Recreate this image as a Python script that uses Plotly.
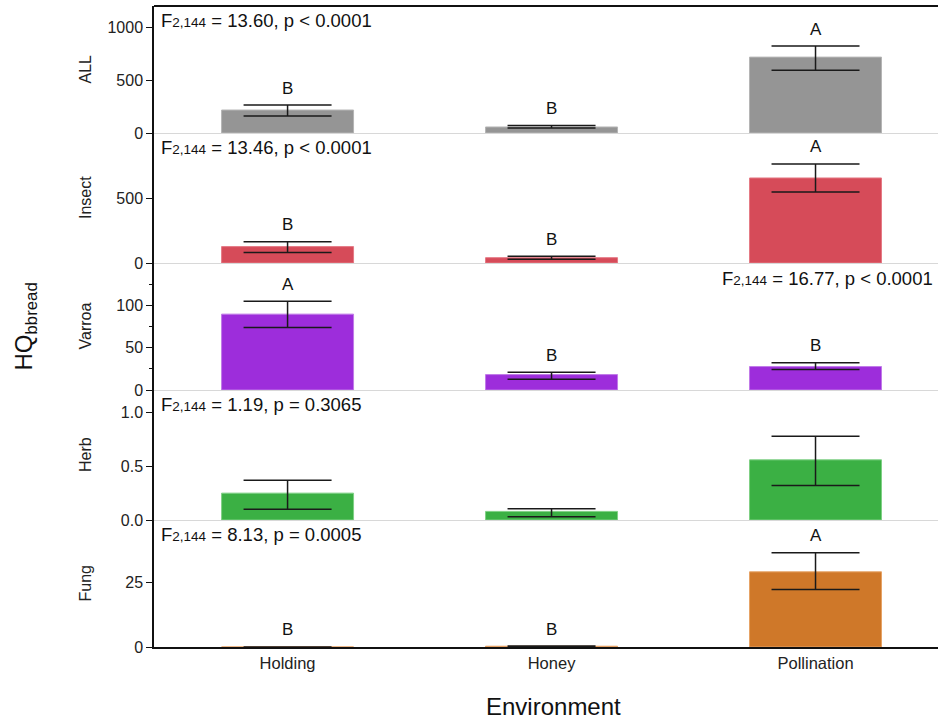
import plotly.graph_objects as go
from plotly.subplots import make_subplots

# ---------------- data ----------------
environments = ["Holding", "Honey", "Pollination"]
panels = ["ALL", "Insect", "Varroa", "Herb", "Fung"]

all_mean = [217, 57, 717]
all_upper = [264, 71, 821]
all_lower = [160, 47, 594]

insect_mean = [126, 41, 654]
insect_upper = [164, 52, 762]
insect_lower = [81, 28, 546]

varroa_mean = [89.6, 18.2, 27.7]
varroa_upper = [104.8, 21.0, 32.1]
varroa_lower = [73.8, 12.6, 24.2]

herb_mean = [0.25, 0.08, 0.56]
herb_upper = [0.37, 0.105, 0.78]
herb_lower = [0.10, 0.03, 0.32]

fung_mean = [0.02, 0.3, 29.3]
fung_upper = [0.03, 0.35, 36.7]
fung_lower = [0.01, 0.25, 22.4]

all_letters = ["B", "B", "A"]
insect_letters = ["B", "B", "A"]
varroa_letters = ["A", "B", "B"]
herb_letters = ["", "", ""]
fung_letters = ["B", "B", "A"]

SUB = "<span style='font-size:13.5px'>2,144</span>"
stats = [
    "F" + SUB + " = 13.60, p < 0.0001",
    "F" + SUB + " = 13.46, p < 0.0001",
    "F" + SUB + " = 16.77, p < 0.0001",
    "F" + SUB + " = 1.19, p = 0.3065",
    "F" + SUB + " = 8.13, p = 0.0005",
]
stats_side = ["left", "left", "right", "left", "left"]

y_ranges = [[0, 1200], [0, 1000], [0, 150], [0, 1.21], [0, 49.5]]
y_ticks = [[0, 500, 1000], [0, 500], [0, 50, 100], [0, 0.5, 1.0], [0, 25]]
y_ticktext = [["0", "500", "1000"], ["0", "500"], ["0", "50", "100"],
              ["0.0", "0.5", "1.0"], ["0", "25"]]

colors = ["#959595", "#d64b59", "#9d2ddb", "#3bb044", "#cf7829"]
outline = ["#b5b5b5", "#e57a85", "#c07ae8", "#7fd085", "#e6a366"]

means = [all_mean, insect_mean, varroa_mean, herb_mean, fung_mean]
uppers = [all_upper, insect_upper, varroa_upper, herb_upper, fung_upper]
lowers = [all_lower, insect_lower, varroa_lower, herb_lower, fung_lower]
letters = [all_letters, insect_letters, varroa_letters, herb_letters, fung_letters]

# ---------------- figure ----------------
W, H = 938, 721
ml, mr, mt, mb = 154, 0, 6, 74
ph = H - mt - mb
bounds_px = [6, 133, 263, 390, 520, 647]  # panel boundaries (pixels from top)

fig = make_subplots(rows=5, cols=1, shared_xaxes=True, vertical_spacing=0)

FONT = "Liberation Sans, Arial, sans-serif"
TXT = "#222222"

for i in range(5):
    r = i + 1
    m = means[i]
    up = [u - v for u, v in zip(uppers[i], m)]
    lo = [v - l for v, l in zip(m, lowers[i])]
    fig.add_trace(go.Bar(
        x=environments, y=m, width=0.5,
        marker=dict(color=colors[i], line=dict(color=outline[i], width=1)),
        error_y=dict(type="data", symmetric=False, array=up, arrayminus=lo,
                     color="#1a1a1a", thickness=1.5, width=44),
        showlegend=False, hoverinfo="skip"), row=r, col=1)

    top = bounds_px[i]
    bot = bounds_px[i + 1]
    d0 = (H - mb - bot) / ph
    d1 = (H - mb - top) / ph
    suffix = "" if r == 1 else str(r)
    fig.layout["yaxis" + suffix].update(
        domain=[d0, d1], range=y_ranges[i], tickvals=y_ticks[i],
        ticktext=y_ticktext[i], showgrid=False, zeroline=False,
        showline=True, linecolor="#111111", linewidth=1.5,
        ticks="outside", ticklen=6, tickcolor="#111111", tickwidth=1.2,
        tickfont=dict(family=FONT, size=16, color=TXT))
    fig.layout["xaxis" + suffix].update(
        range=[-0.506, 2.464], showgrid=False, zeroline=False,
        showline=True,
        linecolor="#111111" if r == 5 else "#d8d8d8",
        linewidth=1.5 if r == 5 else 1.2,
        ticks="", showticklabels=(r == 5),
        tickfont=dict(family=FONT, size=16.5, color=TXT))

    yref_dom = "y" + suffix + " domain"
    xref_dom = "x" + suffix + " domain"
    xref = "x" + suffix
    yref = "y" + suffix

    # panel label
    fig.add_annotation(text=panels[i], xref="paper", yref=yref_dom, x=0, y=0.5,
                       xanchor="center", yanchor="middle",
                       xshift=-69, textangle=-90, showarrow=False,
                       font=dict(family=FONT, size=16, color=TXT))
    # stats text
    if stats_side[i] == "left":
        fig.add_annotation(text=stats[i], xref=xref_dom, yref=yref_dom, x=0, y=1,
                           xanchor="left", yanchor="top", xshift=5, yshift=-2,
                           showarrow=False, font=dict(family=FONT, size=18.5, color="#111111"))
    else:
        fig.add_annotation(text=stats[i], xref=xref_dom, yref=yref_dom, x=1, y=1,
                           xanchor="right", yanchor="top", xshift=-3, yshift=-3,
                           showarrow=False, font=dict(family=FONT, size=18.5, color="#111111"))
    # letters
    for env, u, lt in zip(environments, uppers[i], letters[i]):
        if lt:
            fig.add_annotation(text=lt, x=env, y=u, xref=xref, yref=yref,
                               yanchor="middle", yshift=17, showarrow=False,
                               font=dict(family=FONT, size=17, color="#111111"))

# minor ticks on Varroa panel
fig.layout.yaxis3.update(minor=dict(tickvals=[25, 75, 125], ticks="outside",
                                    ticklen=3, tickcolor="#111111", tickwidth=1))

# top border
fig.add_shape(type="line", xref="paper", yref="paper", x0=0, x1=1, y0=1, y1=1,
              line=dict(color="#111111", width=2))

# overall titles
fig.add_annotation(text="HQ<sub>bbread</sub>", xref="paper", yref="paper", x=0, y=0.5,
                   xanchor="center", yanchor="middle",
                   xshift=-129, textangle=-90, showarrow=False,
                   font=dict(family=FONT, size=24, color="#111111"))
fig.add_annotation(text="Environment", xref="paper", yref="paper", x=0.5, y=0,
                   xanchor="center", yshift=-59, xshift=7, yanchor="middle", showarrow=False,
                   font=dict(family=FONT, size=24, color="#111111"))

fig.update_layout(width=W, height=H, margin=dict(l=ml, r=mr, t=mt, b=mb),
                  plot_bgcolor="white", paper_bgcolor="white", bargap=0.5)

fig.write_html("out.html", config={"displayModeBar": False},
               post_script="document.body.style.margin='0';document.body.style.overflow='hidden';")
